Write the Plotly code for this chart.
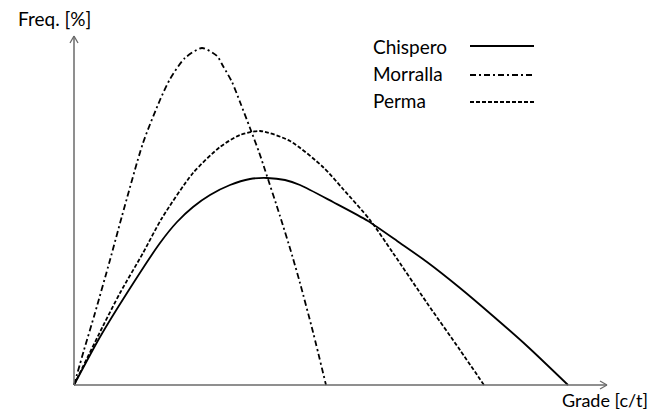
import plotly.graph_objects as go

# Values (arbitrary grade / frequency units)
chispero_x = [0, 26, 53, 86, 103, 119, 136, 156, 176, 193, 211, 226, 259, 294, 326, 353, 386, 419, 453, 494]
chispero_y = [0, 48, 92, 142, 163, 178, 190, 200, 206, 207, 205, 200, 183, 164, 142, 123, 97, 69, 39, 0]

morralla_x = [0, 10, 21, 36, 48, 69, 86, 96, 111, 128, 143, 149, 158, 166, 176, 185, 191, 206, 218, 226, 239, 252]
morralla_y = [0, 35, 72, 125, 169, 242, 285, 306, 327, 337, 329, 319, 303, 283, 257, 233, 215, 169, 130, 102, 53, 0]

perma_x = [0, 29, 46, 69, 88, 119, 146, 166, 186, 216, 249, 269, 296, 319, 353, 386, 410]
perma_y = [0, 59, 92, 132, 167, 212, 238, 250, 254, 244, 218, 196, 165, 132, 82, 35, 0]

series_names = ["Chispero", "Morralla", "Perma"]
x_label = "Grade [c/t]"
y_label = "Freq. [%]"

FONT = "Lato"
FSIZE = 19
dashes = {"Chispero": "solid", "Morralla": "6px,3px,2px,3px", "Perma": "4px,2px"}

fig = go.Figure()
for name, xs, ys in zip(series_names,
                        [chispero_x, morralla_x, perma_x],
                        [chispero_y, morralla_y, perma_y]):
    fig.add_trace(go.Scatter(
        x=xs, y=ys, mode="lines", name=name,
        line=dict(color="black", width=1.8, dash=dashes[name], shape="spline", smoothing=0.7),
        showlegend=False, hoverinfo="skip"))

axis_col = "#6a6a6a"
shapes = [
    # axes with open arrow heads
    dict(type="line", x0=0, y0=0, x1=533, y1=0, line=dict(color=axis_col, width=1.5)),
    dict(type="line", x0=0, y0=0, x1=0, y1=349, line=dict(color=axis_col, width=1.5)),
    dict(type="line", x0=533, y0=0, x1=526, y1=4, line=dict(color=axis_col, width=1.3)),
    dict(type="line", x0=533, y0=0, x1=526, y1=-4, line=dict(color=axis_col, width=1.3)),
    dict(type="line", x0=0, y0=349, x1=-4, y1=342, line=dict(color=axis_col, width=1.3)),
    dict(type="line", x0=0, y0=349, x1=4, y1=342, line=dict(color=axis_col, width=1.3)),
]
legend_y = [339, 310, 283]
for name, ly in zip(series_names, legend_y):
    shapes.append(dict(type="line", x0=396, x1=460, y0=ly, y1=ly,
                       line=dict(color="black", width=1.8, dash=dashes[name])))

annotations = [
    dict(x=-0.0868, y=1.019, xref="paper", yref="paper", text=y_label, showarrow=False,
         xanchor="left", yanchor="middle", font=dict(family=FONT, size=FSIZE, color="black")),
    dict(x=0.8970, y=-0.0136, xref="paper", yref="paper", text=x_label, showarrow=False,
         xanchor="left", yanchor="middle", font=dict(family=FONT, size=18, color="black")),
]
legend_text_y = [339, 312, 285]
for name, ty in zip(series_names, legend_text_y):
    annotations.append(dict(x=297, y=ty, xref="x", yref="y", text=name, showarrow=False,
                            xanchor="left", yanchor="middle",
                            font=dict(family=FONT, size=FSIZE, color="black")))

fig.update_layout(
    width=649, height=402,
    margin=dict(l=56, r=40, t=18, b=15),
    paper_bgcolor="white", plot_bgcolor="white",
    xaxis=dict(range=[-10, 543], visible=False),
    yaxis=dict(range=[-10, 359], visible=False),
    shapes=shapes, annotations=annotations,
)
fig.write_html("out.html")
